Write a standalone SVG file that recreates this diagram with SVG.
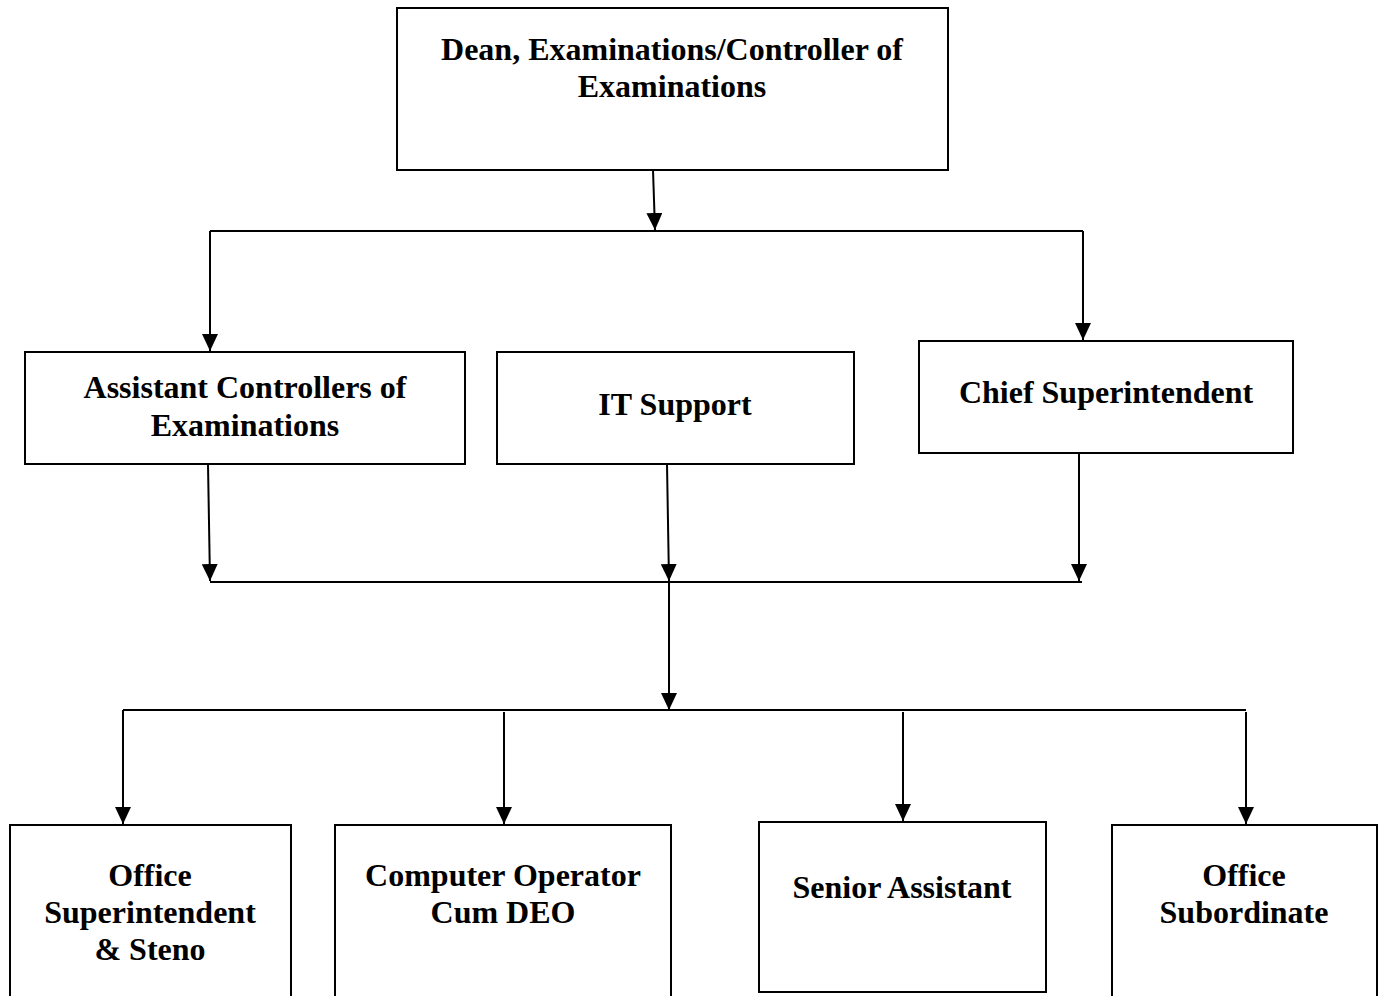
<svg xmlns="http://www.w3.org/2000/svg" width="1383" height="996" viewBox="0 0 1383 996">
<style>
.box{fill:#fff;stroke:#000;stroke-width:2}
.t{font-family:"Liberation Serif","Times New Roman",serif;font-weight:bold;font-size:32px;text-anchor:middle;fill:#000}
.c{fill:none;stroke:#000;stroke-width:2}
</style>
<defs>
<marker id="a" markerUnits="userSpaceOnUse" markerWidth="18" markerHeight="16" viewBox="0 0 18 16" refX="17" refY="8" orient="auto">
<path d="M0,0 L17,8 L0,16 Z" fill="#000"/>
</marker>
</defs>
<g id="connectors">
<path class="c" d="M653,170 L655,230" marker-end="url(#a)"/>
<path class="c" d="M210,231 L1083,231"/>
<path class="c" d="M210,231 L210,351" marker-end="url(#a)"/>
<path class="c" d="M1083,231 L1083,340" marker-end="url(#a)"/>
<path class="c" d="M208,464 L210,581" marker-end="url(#a)"/>
<path class="c" d="M667,464 L669,581" marker-end="url(#a)"/>
<path class="c" d="M1079,453 L1079,581" marker-end="url(#a)"/>
<path class="c" d="M210,582 L1082,582"/>
<path class="c" d="M669,582 L669,710" marker-end="url(#a)"/>
<path class="c" d="M123,710 L1246,710"/>
<path class="c" d="M123,710 L123,824" marker-end="url(#a)"/>
<path class="c" d="M504,712 L504,824" marker-end="url(#a)"/>
<path class="c" d="M903,712 L903,821" marker-end="url(#a)"/>
<path class="c" d="M1246,712 L1246,824" marker-end="url(#a)"/>
</g>
<g id="dean">
<rect class="box" x="397" y="8" width="551" height="162"/>
<text class="t" x="672" y="60">Dean, Examinations/Controller of</text>
<text class="t" x="672" y="97">Examinations</text>
</g>
<g id="ace">
<rect class="box" x="25" y="352" width="440" height="112"/>
<text class="t" x="245" y="398">Assistant Controllers of</text>
<text class="t" x="245" y="436">Examinations</text>
</g>
<g id="it">
<rect class="box" x="497" y="352" width="357" height="112"/>
<text class="t" x="675" y="415">IT Support</text>
</g>
<g id="chief">
<rect class="box" x="919" y="341" width="374" height="112"/>
<text class="t" x="1106" y="403">Chief Superintendent</text>
</g>
<g id="os">
<rect class="box" x="10" y="825" width="281" height="175"/>
<text class="t" x="150" y="886">Office</text>
<text class="t" x="150" y="923">Superintendent</text>
<text class="t" x="150" y="960">&amp; Steno</text>
</g>
<g id="co">
<rect class="box" x="335" y="825" width="336" height="175"/>
<text class="t" x="503" y="886">Computer Operator</text>
<text class="t" x="503" y="923">Cum DEO</text>
</g>
<g id="sa">
<rect class="box" x="759" y="822" width="287" height="170"/>
<text class="t" x="902" y="898">Senior Assistant</text>
</g>
<g id="osub">
<rect class="box" x="1112" y="825" width="265" height="175"/>
<text class="t" x="1244" y="886">Office</text>
<text class="t" x="1244" y="923">Subordinate</text>
</g>
</svg>
